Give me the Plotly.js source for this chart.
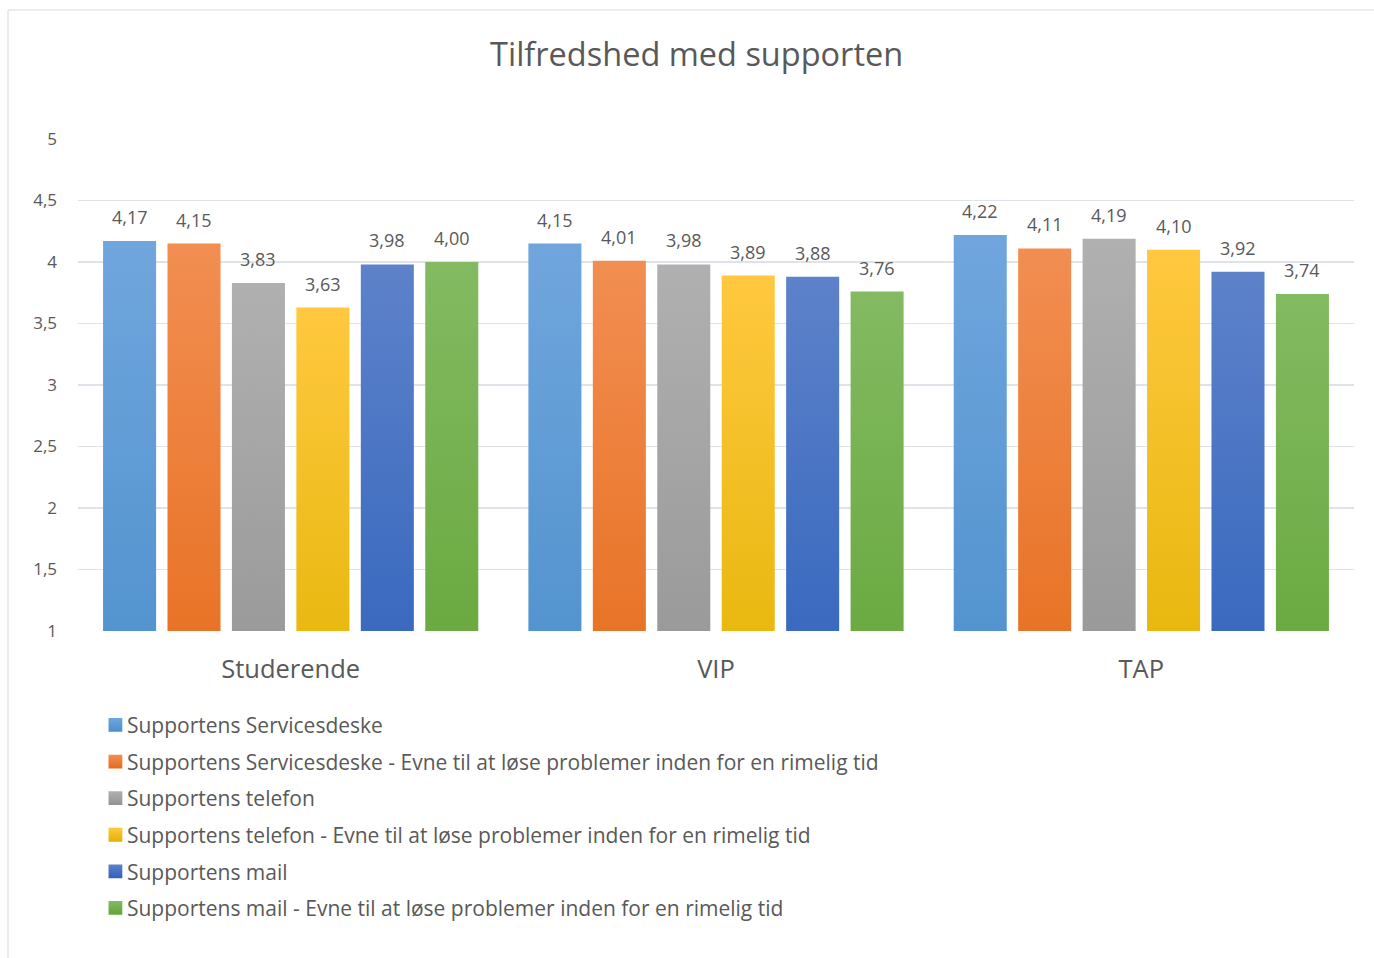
<!DOCTYPE html>
<html>
<head>
<meta charset="utf-8">
<script src="https://cdn.plot.ly/plotly-3.0.1.min.js"></script>
<style>
  html, body { margin: 0; padding: 0; background: #fff; }
  #chart { width: 1374px; height: 958px; }
</style>
</head>
<body>
<div id="chart"></div>
<script>
// Respondent groups on the x axis
const groups = ['Studerende', 'VIP', 'TAP'];

// Support channels (one bar series each)
const seriesNames = [
  'Supportens Servicesdeske',
  'Supportens Servicesdeske - Evne til at løse problemer inden for en rimelig tid',
  'Supportens telefon',
  'Supportens telefon - Evne til at løse problemer inden for en rimelig tid',
  'Supportens mail',
  'Supportens mail - Evne til at løse problemer inden for en rimelig tid'
];

// Average satisfaction per group (Studerende, VIP, TAP)
const servicedeske        = [4.17, 4.15, 4.22];
const servicedeskeEvne    = [4.15, 4.01, 4.11];
const telefon             = [3.83, 3.98, 4.19];
const telefonEvne         = [3.63, 3.89, 4.10];
const mail                = [3.98, 3.88, 3.92];
const mailEvne            = [4.00, 3.76, 3.74];

const seriesValues = [servicedeske, servicedeskeEvne, telefon, telefonEvne, mail, mailEvne];

// Fill gradients per series: [top, bottom]
const gradients = [
  ['#70a6dd', '#4a8ecb'],
  ['#f28e52', '#e56b19'],
  ['#b0b0b0', '#939393'],
  ['#ffc83f', '#e1b300'],
  ['#5d82ca', '#2e61bb'],
  ['#83ba62', '#62a536']
];
const flatColors = ['#5b9bd5', '#ed7d31', '#a5a5a5', '#ffc000', '#4472c4', '#70ad47'];

const textColor = '#595959';
const fontFamily = '"Open Sans", Lato, sans-serif';

// Plot geometry (pixels)
const W = 1374, H = 958;
const M = { l: 78, r: 20, t: 139, b: 327 };
const bargap = 0.091, bargroupgap = 0.177;
const plotW = W - M.l - M.r;
const slot = plotW / groups.length * (1 - bargap) / seriesNames.length;

const traces = seriesValues.map((vals, i) => ({
  type: 'bar',
  name: seriesNames[i],
  x: groups,
  y: vals,
  legendgroup: 'g' + i,
  marker: { color: flatColors[i], line: { width: 0 } },
  hoverinfo: 'skip'
}));

// Value labels above each bar
const annotations = [];
seriesValues.forEach((vals, i) => {
  vals.forEach((v, j) => {
    annotations.push({
      x: groups[j], y: v, xref: 'x', yref: 'y',
      text: v.toFixed(2).replace('.', ','),
      showarrow: false,
      xshift: (i - (seriesNames.length - 1) / 2) * slot,
      yanchor: 'bottom', yshift: 10,
      font: { family: fontFamily, size: 18, color: textColor }
    });
  });
});

const layout = {
  width: W, height: H,
  margin: M,
  paper_bgcolor: '#ffffff',
  plot_bgcolor: '#ffffff',
  separators: ',.',
  font: { family: fontFamily, color: textColor },
  title: {
    text: 'Tilfredshed med supporten',
    font: { family: fontFamily, size: 32.5, color: textColor },
    x: 0.507, xanchor: 'center', y: 0.943, yanchor: 'middle'
  },
  barmode: 'group',
  bargap: bargap,
  bargroupgap: bargroupgap,
  xaxis: {
    type: 'category',
    showgrid: false,
    showline: false,
    zeroline: false,
    ticks: '',
    ticklabelstandoff: 20,
    tickfont: { family: fontFamily, size: 25.5, color: textColor }
  },
  yaxis: {
    range: [1, 5],
    dtick: 0.5,
    tick0: 1,
    showgrid: true,
    gridcolor: '#dfe3e9',
    gridwidth: 1.5,
    zeroline: false,
    showline: false,
    ticks: '',
    ticklabelstandoff: 20,
    tickfont: { family: fontFamily, size: 17, color: textColor }
  },
  showlegend: true,
  legend: {
    orientation: 'v',
    x: 0.007, xanchor: 'left',
    y: -0.15, yanchor: 'top',
    font: { family: fontFamily, size: 21, color: textColor },
    tracegroupgap: 6.3,
    itemwidth: 30,
    bgcolor: 'rgba(0,0,0,0)',
    borderwidth: 0
  },
  annotations: annotations,
  shapes: [{
    type: 'rect', xref: 'paper', yref: 'paper',
    x0: (8 - M.l) / plotW, x1: 1.05,
    y0: -0.8, y1: (H - M.b - 10) / (H - M.t - M.b),
    line: { color: '#d9d9d9', width: 1 },
    fillcolor: 'rgba(0,0,0,0)',
    layer: 'below'
  }]
};

Plotly.newPlot('chart', traces, layout, { staticPlot: true, displayModeBar: false }).then(gd => {
  // Vertical gradient fill for every bar and legend swatch
  const svgNS = 'http://www.w3.org/2000/svg';
  const svg = gd.querySelector('.main-svg');
  const defs = svg.querySelector('defs') || svg.insertBefore(document.createElementNS(svgNS, 'defs'), svg.firstChild);
  gradients.forEach((g, i) => {
    const lg = document.createElementNS(svgNS, 'linearGradient');
    lg.setAttribute('id', 'barfill' + i);
    lg.setAttribute('x1', '0'); lg.setAttribute('y1', '0');
    lg.setAttribute('x2', '0'); lg.setAttribute('y2', '1');
    [[0, g[0]], [1, g[1]]].forEach(([o, c]) => {
      const s = document.createElementNS(svgNS, 'stop');
      s.setAttribute('offset', o);
      s.setAttribute('stop-color', c);
      lg.appendChild(s);
    });
    defs.appendChild(lg);
  });
  gd.querySelectorAll('.barlayer .trace').forEach((tr, i) => {
    tr.querySelectorAll('path').forEach(p => { p.style.fill = 'url(#barfill' + i + ')'; });
  });
  // Legend swatches: slightly larger and closer to their labels
  gd.querySelectorAll('.legend .traces').forEach((tr, i) => {
    tr.querySelectorAll('.legendpoints path').forEach(p => {
      p.style.fill = 'url(#barfill' + i + ')';
      const t = p.getAttribute('transform') || '';
      p.setAttribute('transform', t + ' translate(8.5,0) scale(1.15)');
    });
  });
});
</script>
</body>
</html>
